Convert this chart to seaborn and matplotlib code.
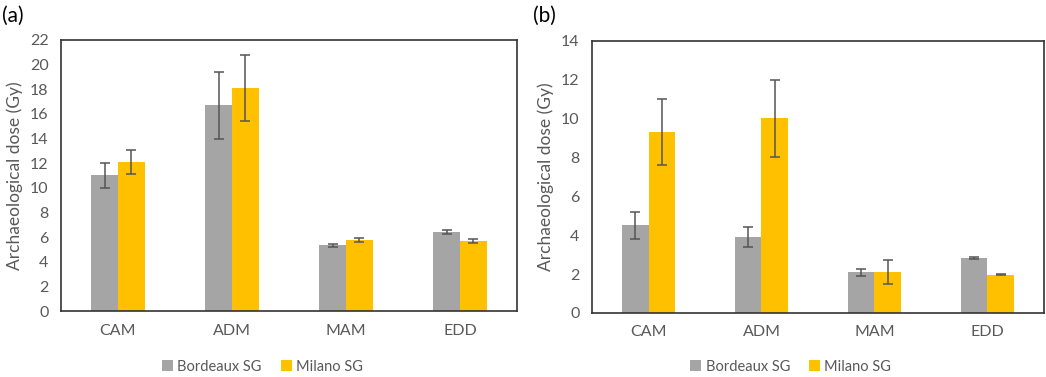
import matplotlib
matplotlib.use("Agg")
import matplotlib.pyplot as plt
import pandas as pd
import seaborn as sns
from matplotlib.patches import Patch

# data
sites = ["CAM", "ADM", "MAM", "EDD"]
groups = ["Bordeaux SG", "Milano SG"]

dose_a_bordeaux = [11.0, 16.7, 5.33, 6.45]
dose_a_milano = [12.1, 18.1, 5.77, 5.67]
err_a_bordeaux = [1.0, 2.7, 0.15, 0.16]
err_a_milano = [1.0, 2.7, 0.15, 0.16]

dose_b_bordeaux = [4.5, 3.9, 2.1, 2.82]
dose_b_milano = [9.3, 10.0, 2.1, 1.97]
err_b_bordeaux = [0.7, 0.5, 0.18, 0.06]
err_b_milano = [1.7, 2.0, 0.6, 0.02]

colors = {"Bordeaux SG": "#A5A5A5", "Milano SG": "#FFC000"}
text_color = "#595959"

sns.set_theme(style="white")
plt.rcParams["font.family"] = ["Lato", "DejaVu Sans"]

fig = plt.figure(figsize=(10.46, 3.77), dpi=100)


def make_frame(bordeaux, milano, err_b, err_m):
    rows = []
    for i, s in enumerate(sites):
        rows.append({"Site": s, "Group": groups[0], "Dose": bordeaux[i], "Err": err_b[i]})
        rows.append({"Site": s, "Group": groups[1], "Dose": milano[i], "Err": err_m[i]})
    return pd.DataFrame(rows)


def draw_panel(ax, df, ymax, label, legend_x):
    sns.barplot(data=df, x="Site", y="Dose", hue="Group", hue_order=groups,
                palette=colors, width=0.47, errorbar=None, legend=False,
                saturation=1, linewidth=0, ax=ax)
    # error bars at bar centres
    for container, g in zip(ax.containers, groups):
        errs = df[df["Group"] == g]["Err"].tolist()
        for bar, e in zip(container, errs):
            xc = bar.get_x() + bar.get_width() / 2
            ax.errorbar(xc, bar.get_height(), yerr=e, fmt="none",
                        ecolor="#555555", elinewidth=1.1, capsize=3.5,
                        capthick=1.1)
    ax.set_xlim(-0.5, 3.5)
    ax.set_ylim(0, ymax)
    ax.set_yticks(range(0, ymax + 1, 2))
    ax.set_xlabel("")
    ax.set_ylabel("Archaeological dose (Gy)", fontsize=12.5, color=text_color,
                  labelpad=5)
    ax.tick_params(axis="both", length=0, labelsize=11.5, colors=text_color, pad=9)
    for sp in ax.spines.values():
        sp.set_visible(True)
        sp.set_color("#333333")
        sp.set_linewidth(1.2)
    fig.text(ax.get_position().x0 - 0.056, 0.985, label, fontsize=15,
             va="top", ha="left", color="black")
    handles = [Patch(facecolor=colors[g], edgecolor="none", label=g) for g in groups]
    fig.legend(handles=handles, loc="center", bbox_to_anchor=(legend_x, 0.027),
               ncol=2, frameon=False, fontsize=10.5, handlelength=0.75,
               handleheight=0.75, handletextpad=0.3, columnspacing=1.3,
               labelcolor=text_color)


ax_a = fig.add_axes([0.0583, 0.175, 0.436, 0.719])
ax_b = fig.add_axes([0.566, 0.170, 0.432, 0.722])

df_a = make_frame(dose_a_bordeaux, dose_a_milano, err_a_bordeaux, err_a_milano)
df_b = make_frame(dose_b_bordeaux, dose_b_milano, err_b_bordeaux, err_b_milano)

draw_panel(ax_a, df_a, 22, "(a)", 0.251)
draw_panel(ax_b, df_b, 14, "(b)", 0.756)

fig.savefig("out.png", dpi=100)
